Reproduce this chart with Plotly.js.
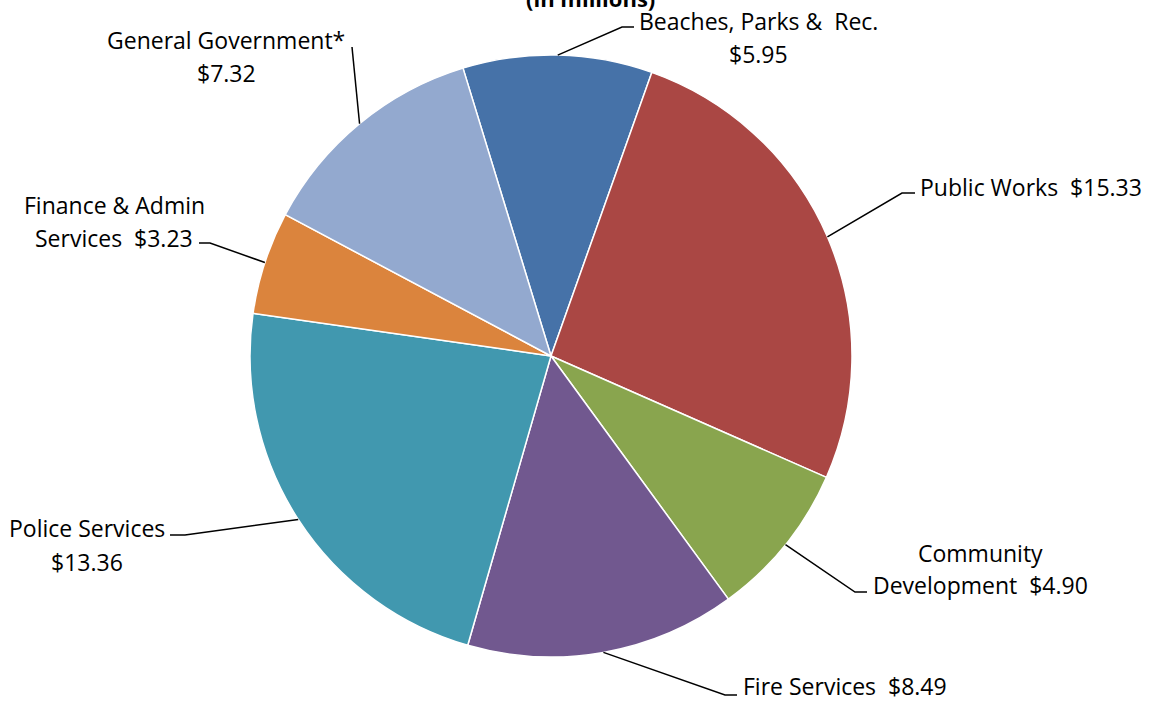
<!DOCTYPE html>
<html>
<head>
<meta charset="utf-8">
<script src="https://cdn.plot.ly/plotly-3.0.1.min.js"></script>
<style>html,body{margin:0;padding:0;background:#fff;}#chart{width:1149px;height:702px;}</style>
</head>
<body>
<div id="chart"></div>
<script>
// Data
const categories = ['Beaches, Parks &  Rec.', 'Public Works', 'Community Development', 'Fire Services', 'Police Services', 'Finance & Admin Services', 'General Government*'];
const values = [5.95, 15.33, 4.90, 8.49, 13.36, 3.23, 7.32];
const colors = ['#4672A8', '#AA4744', '#89A54E', '#71588F', '#4198AF', '#DB843D', '#93A9CF'];
// How each label is broken into lines ("{v}" is the formatted value)
const labelLines = [
  ['Beaches, Parks &  Rec.', '{v}'],
  ['Public Works  {v}'],
  ['Community', 'Development  {v}'],
  ['Fire Services  {v}'],
  ['Police Services', '{v}'],
  ['Finance & Admin', 'Services  {v}'],
  ['General Government*', '{v}']
];
const titleText = '(in millions)';

// Layout constants (pixels)
const W = 1149, H = 702;
const cx = 551, cy = 356, R = 301;
const rotation = -17;
// label placement: text center x, first line center y, line spacing, elbow and end of leader
const labelPos = [
  {x: 758, y: 21, dy: 33, elbow: [622, 27], end: [634, 27]},
  {x: 1031, y: 187, dy: 33, elbow: [902, 193], end: [915, 193]},
  {x: 980, y: 553, dy: 32, elbow: [855, 592], end: [867, 592]},
  {x: 845, y: 686, dy: 33, elbow: [725, 695], end: [737, 695]},
  {x: 87, y: 528, dy: 34, elbow: [185, 535], end: [170, 535]},
  {x: 114, y: 205, dy: 33, elbow: [210, 243], end: [199, 243]},
  {x: 226, y: 40, dy: 33, elbow: [352, 47], end: [352, 47]}
];

const px = x => x / W;
const py = y => 1 - y / H;
const fontFam = '"Open Sans", Lato, sans-serif';
const fsize = 23;

const total = values.reduce((a, b) => a + b, 0);
const annotations = [];
const shapes = [];
let start = rotation;
values.forEach((v, i) => {
  const span = v / total * 360;
  const mid = (start + span / 2) * Math.PI / 180;
  start += span;
  const ex = cx + R * Math.sin(mid);
  const ey = cy - R * Math.cos(mid);
  const p = labelPos[i];
  shapes.push({
    type: 'path', xref: 'paper', yref: 'paper',
    path: `M ${px(ex)} ${py(ey)} L ${px(p.elbow[0])} ${py(p.elbow[1])} L ${px(p.end[0])} ${py(p.end[1])}`,
    line: {color: '#000', width: 1.5}
  });
  const valStr = '$' + v.toFixed(2);
  labelLines[i].forEach((ln, j) => {
    annotations.push({
      xref: 'paper', yref: 'paper', x: px(p.x), y: py(p.y + j * p.dy),
      xanchor: 'center', yanchor: 'middle', showarrow: false, borderpad: 0,
      text: ln.replace('{v}', valStr),
      font: {family: fontFam, size: fsize, color: '#000'}
    });
  });
});
annotations.push({
  xref: 'paper', yref: 'paper', x: px(590), y: py(15), xanchor: 'center', yanchor: 'bottom',
  showarrow: false, text: '<b>' + titleText + '</b>',
  font: {family: fontFam, size: 22, color: '#000'}
});

const trace = {
  type: 'pie',
  labels: categories,
  values: values,
  sort: false,
  direction: 'clockwise',
  rotation: rotation,
  textinfo: 'none',
  hoverinfo: 'label+value',
  marker: {colors: colors, line: {color: '#ffffff', width: 1.5}},
  domain: {x: [px(cx - R), px(cx + R)], y: [py(cy + R), py(cy - R)]}
};

const layout = {
  width: W, height: H,
  margin: {l: 0, r: 0, t: 0, b: 0},
  showlegend: false,
  paper_bgcolor: '#fff',
  annotations: annotations,
  shapes: shapes
};

Plotly.newPlot('chart', [trace], layout, {displayModeBar: false, staticPlot: true});
</script>
</body>
</html>
